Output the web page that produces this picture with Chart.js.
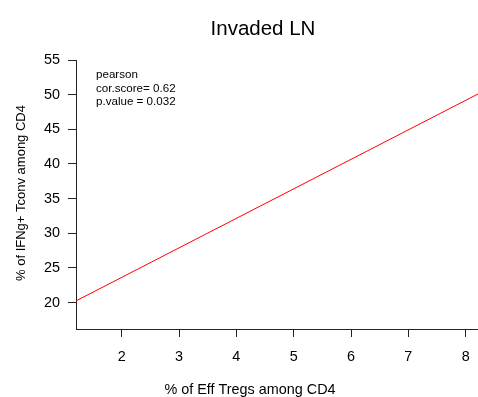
<!DOCTYPE html>
<html>
<head>
<meta charset="utf-8">
<script src="https://cdn.jsdelivr.net/npm/chart.js@4/dist/chart.umd.min.js"></script>
<style>
html,body{margin:0;padding:0;background:#fff;}
#wrap{width:478px;height:397px;}
</style>
</head>
<body>
<div id="wrap"><canvas id="c" width="478" height="397"></canvas></div>
<script>
// ---- data ----
const chartTitle = "Invaded LN";
const xAxisTitle = "% of Eff Tregs among CD4";
const yAxisTitle = "% of IFNg+ Tconv among CD4";
const xTickValues = [2, 3, 4, 5, 6, 7, 8];
const yTickValues = [20, 25, 30, 35, 40, 45, 50, 55];
const xRange = [1.203, 8.215];
const yRange = [16.2, 55];
// regression line endpoints (x, y)
const fitX = [1.203, 8.215];
const fitY = [20.25, 50.1];
const annotationLines = ["pearson", "cor.score= 0.62", "p.value = 0.032"];

const FONT = "'Liberation Sans', Arial, Helvetica, sans-serif";
const AX = '#222';

const textPlugin = {
  id: 'texts',
  afterDraw(chart) {
    const ctx = chart.ctx;
    ctx.save();
    ctx.fillStyle = '#000';
    ctx.textAlign = 'center';
    ctx.textBaseline = 'alphabetic';
    ctx.font = "20.5px " + FONT;
    ctx.fillText(chartTitle, 263, 35);
    ctx.font = "14.4px " + FONT;
    ctx.fillText(xAxisTitle, 250, 394);
    ctx.save();
    ctx.translate(25, 193);
    ctx.rotate(-Math.PI / 2);
    ctx.font = "13px " + FONT;
    ctx.fillText(yAxisTitle, 0, 0);
    ctx.restore();
    ctx.textAlign = 'left';
    ctx.font = "11.6px " + FONT;
    annotationLines.forEach((t, i) => ctx.fillText(t, 96, 78 + i * 13.6));
    ctx.restore();
  }
};

new Chart(document.getElementById('c'), {
  type: 'line',
  data: {
    datasets: [{
      data: fitX.map((x, i) => ({x: x, y: fitY[i]})),
      borderColor: '#ff0000',
      borderWidth: 1,
      pointRadius: 0,
      fill: false,
      tension: 0
    }]
  },
  options: {
    responsive: false,
    animation: false,
    devicePixelRatio: 1,
    layout: {padding: {top: 60, right: 0, left: 0, bottom: 0}},
    plugins: {legend: {display: false}, title: {display: false}, tooltip: {enabled: false}},
    scales: {
      x: {
        type: 'linear',
        min: xRange[0], max: xRange[1],
        afterBuildTicks: s => { s.ticks = xTickValues.map(v => ({value: v})); },
        afterFit: s => { s.height = 68; s.paddingLeft = 0; s.paddingRight = 0; },
        grid: {drawOnChartArea: false, drawTicks: true, tickLength: 8, color: AX, lineWidth: 1},
        border: {display: true, color: AX, width: 1},
        ticks: {color: '#000', font: {family: FONT, size: 14.4}, padding: 11, maxRotation: 0, autoSkip: false,
                callback: v => String(v)}
      },
      y: {
        type: 'linear',
        min: yRange[0], max: yRange[1],
        afterBuildTicks: s => { s.ticks = yTickValues.map(v => ({value: v})); },
        afterFit: s => { s.width = 76; s.paddingTop = 0; s.paddingBottom = 0; },
        grid: {drawOnChartArea: false, drawTicks: true, tickLength: 8, color: AX, lineWidth: 1},
        border: {display: true, color: AX, width: 1},
        ticks: {color: '#000', font: {family: FONT, size: 14.4}, padding: 8, autoSkip: false,
                callback: v => String(v)}
      }
    }
  },
  plugins: [textPlugin]
});
</script>
</body>
</html>
